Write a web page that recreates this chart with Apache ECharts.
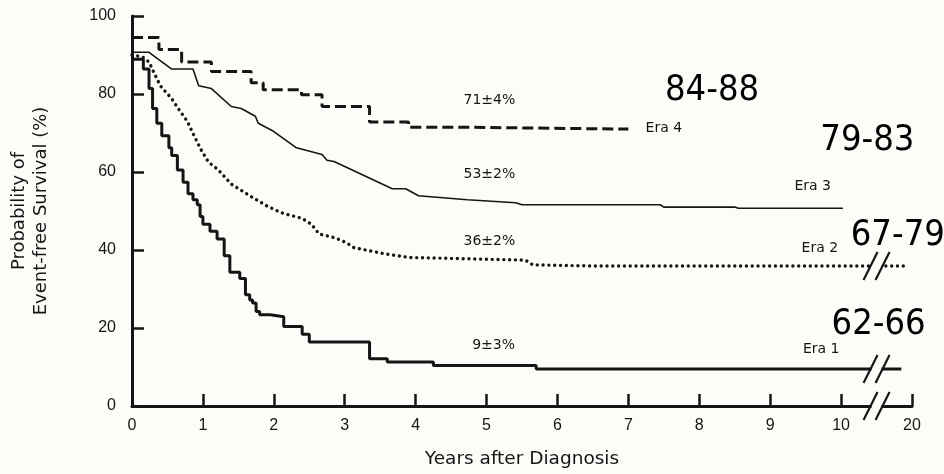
<!DOCTYPE html>
<html>
<head>
<meta charset="utf-8">
<script src="https://cdn.jsdelivr.net/npm/echarts@6/dist/echarts.min.js"></script>
<style>
  html, body { margin: 0; padding: 0; background: #fcfcf9; }
  #chart { width: 944px; height: 474px; }
</style>
</head>
<body>
<div id="chart"></div>
<script>
// years after diagnosis, event-free survival (%)
const era1 = [
  [0, 88.9], [0.16, 86.4], [0.24, 81.4], [0.29, 76.3], [0.35, 72.5], [0.42, 69.3],
  [0.52, 66.2], [0.56, 64.2], [0.64, 60.5], [0.72, 57.4], [0.79, 54.4], [0.86, 52.9],
  [0.92, 51.6], [0.96, 48.6], [1.0, 46.6], [1.1, 44.8], [1.2, 42.8], [1.3, 38.5],
  [1.38, 34.3], [1.52, 32.7], [1.6, 28.5], [1.66, 27.2], [1.7, 26.4], [1.75, 24.2],
  [1.8, 23.4], [1.95, 22.9], [2.14, 20.4], [2.4, 18.4], [2.5, 16.4], [3.35, 12.1],
  [3.6, 11.3], [4.25, 10.4], [5.7, 9.5], [18.5, 9.5]
]
const era2 = [
  [0, 90], [0.15, 89.5], [0.24, 88.2], [0.32, 85.1], [0.4, 82.1], [0.56, 78.8],
  [0.67, 75.8], [0.78, 73], [0.87, 69.5], [0.98, 65.5], [1.08, 62.5], [1.22, 60.5],
  [1.4, 56.9], [1.68, 53.7], [1.92, 51.1], [2.13, 49.4], [2.4, 48.1], [2.53, 46.6],
  [2.64, 44.1], [2.87, 43.1], [3.03, 41.8], [3.13, 40.6], [3.57, 39.0], [3.9, 38.1],
  [5.55, 37.4], [5.65, 36.2], [6.5, 35.9], [19, 35.9]
]
const era3 = [
  [0, 90.7], [0.24, 90.7], [0.56, 86.4], [0.86, 86.4], [0.94, 82.1], [1.12, 81.4],
  [1.4, 76.8], [1.54, 76.3], [1.74, 74.3], [1.78, 72.5], [1.99, 70.5], [2.32, 66.2],
  [2.68, 64.5], [2.75, 63.0], [2.85, 62.7], [3.67, 55.7], [3.86, 55.7], [4.04, 53.9],
  [4.73, 52.9], [5.41, 52.1], [5.5, 51.6], [7.45, 51.6], [7.5, 51.0], [8.5, 51.0],
  [8.55, 50.7], [10.26, 50.7]
]
const era4 = [
  [0, 94.5], [0.38, 91.4], [0.7, 88.2], [1.12, 85.8], [1.68, 82.9], [1.85, 81.1],
  [2.39, 79.8], [2.68, 76.8], [3.35, 72.8], [3.9, 71.5], [4.55, 71], [7.0, 71]
]

const eraNames = ['Era 1', 'Era 2', 'Era 3', 'Era 4']
const eraYears = ['62-66', '67-79', '79-83', '84-88']
const survivalAt = ['9±3%', '36±2%', '53±2%', '71±4%']
const xTickLabels = ['0', '1', '2', '3', '4', '5', '6', '7', '8', '9', '10', '20']

const INK = '#151515'
const BG = '#fcfcf9'
const FONT = 'DejaVu Sans'
const TICK_FONT = '"Liberation Sans", Arial, sans-serif'
const BIG_FONT = '"DejaVu Sans Condensed", "Liberation Sans Narrow", sans-serif'

// axis is broken between 10 and 20 years: 10..20 squeezed into one unit
const toAxis = t => (t <= 10 ? t : 10 + (t - 10) / 10)
const mapped = arr => arr.map(p => [toAxis(p[0]), p[1]])
const BREAK_X = toAxis(15)

const last = arr => arr[arr.length - 1][1]

function notes(i, survPos, eraPos, yearPos) {
  const small = { color: INK, fontFamily: FONT, fontSize: 14 }
  return {
    silent: true,
    symbol: 'rect',
    symbolSize: 1,
    itemStyle: { color: 'rgba(0,0,0,0)' },
    label: { show: true, position: 'inside', formatter: p => p.name },
    data: [
      { name: survivalAt[i], coord: survPos, label: small },
      { name: eraNames[i], coord: eraPos, label: small },
      {
        name: eraYears[i],
        coord: yearPos,
        label: { color: '#000', fontFamily: BIG_FONT, fontSize: 36 },
      },
    ],
  }
}

const chart = echarts.init(document.getElementById('chart'), null, { renderer: 'canvas' })

chart.setOption({
  backgroundColor: BG,
  animation: false,
  grid: { left: 128, right: 32, top: 16, bottom: 61 },
  xAxis: {
    type: 'value',
    min: 0,
    max: toAxis(20),
    interval: 1,
    name: 'Years after Diagnosis',
    nameLocation: 'middle',
    nameGap: 44,
    nameTextStyle: { color: INK, fontFamily: FONT, fontSize: 18.5 },
    axisLine: { lineStyle: { color: INK, width: 3 } },
    axisTick: { inside: true, length: 12, lineStyle: { color: INK, width: 2.5 } },
    axisLabel: {
      color: INK,
      fontFamily: TICK_FONT,
      fontSize: 16,
      margin: 12,
      formatter: v => xTickLabels[Math.round(v)] || '',
    },
    splitLine: { show: false },
  },
  yAxis: {
    type: 'value',
    min: 0,
    max: 100,
    interval: 20,
    name: 'Probability of\nEvent-free Survival (%)',
    nameLocation: 'middle',
    nameRotate: 90,
    nameGap: 80,
    nameTextStyle: { color: INK, fontFamily: FONT, fontSize: 18, lineHeight: 22 },
    axisLine: { show: true, lineStyle: { color: INK, width: 3 } },
    axisTick: { show: true, inside: true, length: 12, lineStyle: { color: INK, width: 2.5 } },
    axisLabel: { color: INK, fontFamily: TICK_FONT, fontSize: 16, margin: 16 },
    splitLine: { show: false },
  },
  series: [
    {
      name: eraNames[0],
      type: 'line',
      step: 'end',
      showSymbol: false,
      data: mapped(era1),
      lineStyle: { color: INK, width: 3 },
      markPoint: notes(0, [5.1, 15.6], [9.72, 14.6], [toAxis(15.3), 20.9]),
    },
    {
      name: eraNames[1],
      type: 'line',
      showSymbol: false,
      data: mapped(era2),
      lineStyle: { color: INK, width: 3.4, type: [0.01, 5.8], cap: 'round' },
      markPoint: notes(1, [5.04, 42.3], [9.7, 40.3], [toAxis(18), 43.6]),
    },
    {
      name: eraNames[2],
      type: 'line',
      showSymbol: false,
      data: mapped(era3),
      lineStyle: { color: INK, width: 1.6 },
      markPoint: notes(2, [5.04, 59.4], [9.6, 56.4], [toAxis(13.7), 68]),
    },
    {
      name: eraNames[3],
      type: 'line',
      step: 'end',
      showSymbol: false,
      data: mapped(era4),
      lineStyle: { color: INK, width: 3, type: [11, 5] },
      markPoint: notes(3, [5.04, 78.3], [7.5, 71.3], [8.18, 80.9]),
    },
    {
      // "//" break marks on the axis and on the curves that run past 10 years
      name: 'breaks',
      type: 'custom',
      silent: true,
      z: 5,
      data: [[BREAK_X, 0], [BREAK_X, last(era1)], [BREAK_X, last(era2)]],
      renderItem: (params, api) => {
        const p = api.coord([api.value(0), api.value(1)])
        const stroke = { stroke: INK, lineWidth: 2.2 }
        return {
          type: 'group',
          children: [
            { type: 'rect', shape: { x: p[0] - 5, y: p[1] - 4, width: 10, height: 8 }, style: { fill: BG } },
            { type: 'line', shape: { x1: p[0] - 13, y1: p[1] + 14, x2: p[0] + 1, y2: p[1] - 14 }, style: stroke },
            { type: 'line', shape: { x1: p[0] - 1, y1: p[1] + 14, x2: p[0] + 13, y2: p[1] - 14 }, style: stroke },
          ],
        }
      },
    },
  ],
})
</script>
</body>
</html>
